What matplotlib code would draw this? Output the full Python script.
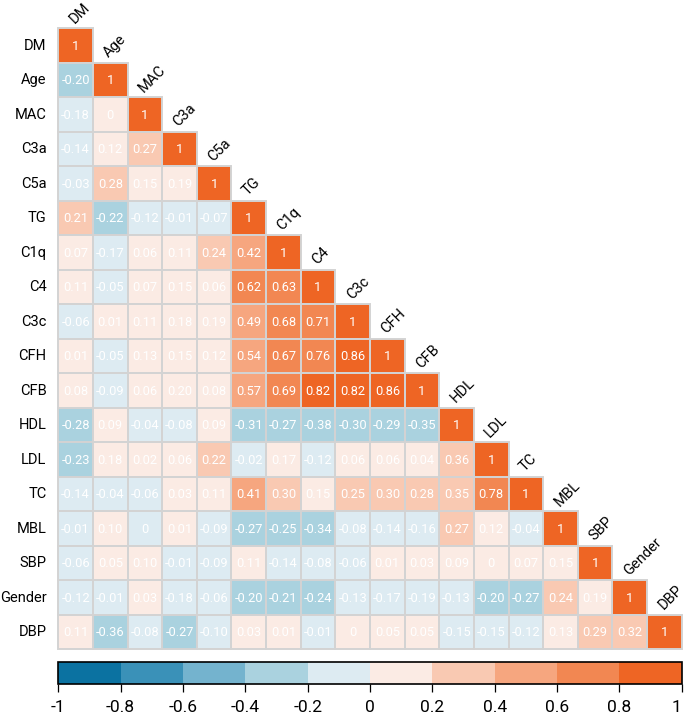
import numpy as np
import matplotlib
matplotlib.use("Agg")
import matplotlib.pyplot as plt
from matplotlib.colors import ListedColormap, BoundaryNorm
from matplotlib.patches import Rectangle

plt.rcParams['font.family'] = ['Roboto', 'DejaVu Sans']

labels = ["DM", "Age", "MAC", "C3a", "C5a", "TG", "C1q", "C4", "C3c", "CFH",
          "CFB", "HDL", "LDL", "TC", "MBL", "SBP", "Gender", "DBP"]

rows = [
    [1],
    [-0.201, 1],
    [-0.18, 0, 1],
    [-0.14, 0.12, 0.27, 1],
    [-0.03, 0.28, 0.15, 0.19, 1],
    [0.21, -0.22, -0.12, -0.01, -0.07, 1],
    [0.07, -0.17, 0.06, 0.11, 0.24, 0.42, 1],
    [0.11, -0.05, 0.07, 0.15, 0.06, 0.62, 0.63, 1],
    [-0.06, 0.01, 0.11, 0.18, 0.19, 0.49, 0.68, 0.71, 1],
    [0.01, -0.05, 0.13, 0.15, 0.12, 0.54, 0.67, 0.76, 0.86, 1],
    [0.08, -0.09, 0.06, 0.20, 0.08, 0.57, 0.69, 0.82, 0.82, 0.86, 1],
    [-0.28, 0.09, -0.04, -0.08, 0.09, -0.31, -0.27, -0.38, -0.30, -0.29, -0.35, 1],
    [-0.23, 0.18, 0.02, 0.06, 0.22, -0.02, 0.17, -0.12, 0.06, 0.06, 0.04, 0.36, 1],
    [-0.14, -0.04, -0.06, 0.03, 0.11, 0.41, 0.30, 0.15, 0.25, 0.30, 0.28, 0.35, 0.78, 1],
    [-0.01, 0.10, -0.001, 0.01, -0.09, -0.27, -0.25, -0.34, -0.08, -0.14, -0.16, 0.27, 0.12, -0.04, 1],
    [-0.06, 0.05, 0.10, -0.01, -0.09, 0.11, -0.14, -0.08, -0.06, 0.01, 0.03, 0.09, 0, 0.07, 0.15, 1],
    [-0.12, -0.01, 0.03, -0.18, -0.06, -0.20, -0.21, -0.24, -0.13, -0.17, -0.19, -0.13, -0.20, -0.27, 0.24, 0.19, 1],
    [0.11, -0.36, -0.08, -0.27, -0.10, 0.03, 0.01, -0.01, 0, 0.05, 0.05, -0.15, -0.15, -0.12, 0.13, 0.29, 0.32, 1],
]

bin_colors = ["#0b72a1", "#3a91b8", "#74b3ce", "#aad2df", "#ddebf2",
              "#fbebe4", "#f9c9b2", "#f6a67f", "#f28752", "#ee6524"]
bounds = np.linspace(-1, 1, 11)
tick_vals = np.linspace(-1, 1, 11)
tick_labels = ["-1", "-0.8", "-0.6", "-0.4", "-0.2", "0", "0.2", "0.4", "0.6", "0.8", "1"]

n = len(labels)
M = np.full((n, n), np.nan)
for i, r in enumerate(rows):
    for j, v in enumerate(r):
        M[i, j] = v
Mm = np.ma.masked_invalid(M)

cmap = ListedColormap(bin_colors)
norm = BoundaryNorm(bounds, cmap.N)

W, H = 685, 718
fig = plt.figure(figsize=(W / 100, H / 100), dpi=100)
ax = fig.add_axes([58.3 / W, 1 - 649.3 / H, 623.4 / W, 621 / H])
ax.pcolormesh(np.arange(n + 1) - 0.5, np.arange(n + 1) - 0.5, Mm, cmap=cmap, norm=norm,
              edgecolors="none")
ax.set_xlim(-0.5, n - 0.5)
ax.set_ylim(n - 0.5, -0.5)
for s in ax.spines.values():
    s.set_visible(False)
ax.set_xticks([])
ax.set_yticks([])


def fmt(v):
    r = round(v, 2)
    if abs(r) < 0.005:
        return "0"
    if abs(r - 1) < 1e-9:
        return "1"
    return f"{r:.2f}"


for i in range(n):
    for j in range(i + 1):
        ax.add_patch(Rectangle((j - 0.5, i - 0.5), 1, 1, fill=False,
                               edgecolor="#d3d3d3", linewidth=1.4, clip_on=False))
        ax.text(j, i + 0.02, fmt(M[i, j]), ha="center", va="center", color="white", fontsize=9.3)
    ax.text(-0.84, i, labels[i], ha="right", va="center", fontsize=10.5, color="black")
    ax.text(i - 0.03, i - 0.63, labels[i], ha="left", va="baseline", rotation=45,
            rotation_mode="anchor", fontsize=10.5, color="black")

cax = fig.add_axes([58.3 / W, 1 - 684.3 / H, 623.4 / W, 22.6 / H])
cb = fig.colorbar(plt.cm.ScalarMappable(norm=norm, cmap=cmap), cax=cax,
                  orientation="horizontal", ticks=tick_vals)
cb.set_ticklabels(tick_labels)
cb.outline.set_linewidth(1.2)
cb.outline.set_edgecolor("black")
cax.tick_params(length=6, width=0.9, labelsize=12.5, pad=5)
cax.get_xticklabels()[-1].set_horizontalalignment("right")

fig.savefig("out.png", dpi=100)
